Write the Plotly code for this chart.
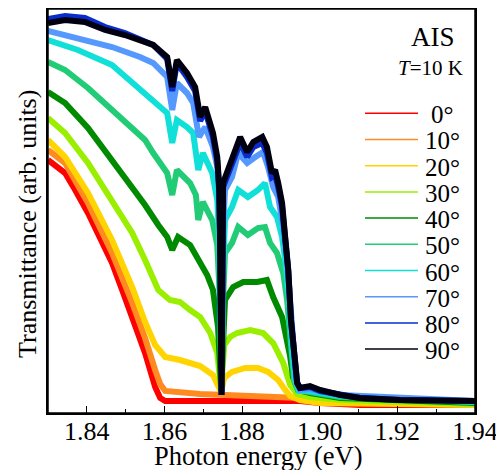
import plotly.graph_objects as go

# ---- data (photon energy in eV, transmittance in arb. units) ----
angles = [0, 10, 20, 30, 40, 50, 60, 70, 80, 90]
angle_labels = ["0°", "10°", "20°", "30°", "40°", "50°", "60°", "70°", "80°", "90°"]
colors = ["#ff0000", "#ff8a20", "#ffd400", "#9aee00", "#008a00",
          "#22cc77", "#11e0d8", "#5599ff", "#0a2ccc", "#000010"]

E_00 = [1.8300,1.8321,1.8344,1.8370,1.8403,1.8434,1.8465,1.8491,1.8517,1.8537,1.8550,1.8563,1.8576,1.8589,1.8602,1.8692,1.8821,1.8949,1.9001,1.9104,1.9400]
T_00 = [63.25,61.75,60.0,55.75,50.0,43.75,37.5,30.75,24.0,19.0,15.0,10.75,6.5,3.75,3.0,3.0,3.0,3.0,2.5,2.0,2.0]

E_10 = [1.8300,1.8344,1.8403,1.8465,1.8517,1.8550,1.8576,1.8589,1.8602,1.8692,1.8821,1.8949,1.9001,1.9400]
T_10 = [65.75,62.5,52.5,40.0,27.5,18.75,10.75,7.25,5.5,4.75,4.25,3.75,2.75,2.0]

E_20 = [1.8300,1.8344,1.8403,1.8465,1.8517,1.8550,1.8576,1.8602,1.8640,1.8692,1.8725,1.8738,1.8746,1.8754,1.8774,1.8808,1.8841,1.8867,1.8893,1.8911,1.8924,1.8949,1.9001,1.9400]
T_20 = [68.25,64.0,55.0,43.25,31.5,22.75,17.0,14.0,13.25,11.75,9.5,7.0,5.25,8.75,10.25,11.25,11.25,10.25,8.25,5.75,4.25,3.25,2.5,2.0]

E_30 = [1.8300,1.8344,1.8403,1.8465,1.8517,1.8550,1.8584,1.8614,1.8640,1.8666,1.8692,1.8718,1.8736,1.8746,1.8754,1.8769,1.8787,1.8821,1.8854,1.8880,1.8906,1.8924,1.8942,1.8975,1.9053,1.9400]
T_30 = [73.75,70.0,62.5,53.25,45.0,38.25,30.75,28.25,27.75,25.75,24.0,20.0,15.0,5.75,17.0,19.0,20.0,20.75,20.0,17.5,12.5,7.0,4.75,4.0,3.25,2.25]

E_40 = [1.8300,1.8344,1.8403,1.8465,1.8517,1.8550,1.8584,1.8607,1.8620,1.8635,1.8666,1.8692,1.8710,1.8725,1.8738,1.8746,1.8751,1.8756,1.8777,1.8803,1.8839,1.8864,1.8880,1.8903,1.8924,1.8931,1.8944,1.8975,1.9053,1.9400]
T_40 = [80.25,77.5,71.25,63.25,56.5,52.0,47.0,44.0,40.75,44.0,42.0,37.75,34.5,30.75,21.5,6.25,23.25,28.25,31.5,32.75,32.75,33.25,29.0,24.0,14.0,9.0,5.75,5.0,3.75,2.5]

E_50 = [1.8300,1.8344,1.8403,1.8465,1.8517,1.8550,1.8571,1.8607,1.8620,1.8632,1.8666,1.8681,1.8687,1.8699,1.8723,1.8736,1.8743,1.8747,1.8751,1.8756,1.8774,1.8790,1.8815,1.8841,1.8859,1.8872,1.8890,1.8906,1.8916,1.8926,1.8934,1.8944,1.8975,1.9053,1.9400]
T_50 = [87.75,85.75,81.25,75.75,70.75,68.25,65.0,60.0,54.5,60.75,57.5,54.5,48.25,52.75,48.25,42.0,28.25,5.25,28.25,40.0,42.5,46.5,44.5,46.25,46.5,42.5,40.0,35.0,28.25,15.75,8.25,5.75,5.25,4.0,2.75]

E_60 = [1.8300,1.8377,1.8465,1.8537,1.8571,1.8607,1.8620,1.8632,1.8658,1.8674,1.8687,1.8699,1.8723,1.8736,1.8741,1.8747,1.8751,1.8756,1.8774,1.8790,1.8815,1.8841,1.8859,1.8872,1.8890,1.8903,1.8911,1.8921,1.8929,1.8937,1.8947,1.8975,1.9053,1.9400]
T_60 = [93.25,90.75,87.0,80.75,78.25,75.0,67.5,73.25,71.5,70.0,60.75,65.0,60.0,53.25,44.0,5.0,35.75,48.25,51.5,55.75,54.0,55.75,57.5,51.5,49.0,44.0,38.25,28.25,15.75,8.25,5.5,5.5,4.25,2.75]

E_70 = [1.8300,1.8377,1.8465,1.8537,1.8571,1.8607,1.8620,1.8632,1.8658,1.8674,1.8689,1.8705,1.8725,1.8738,1.8743,1.8747,1.8751,1.8756,1.8774,1.8790,1.8813,1.8834,1.8854,1.8867,1.8880,1.8893,1.8906,1.8916,1.8924,1.8931,1.8939,1.8949,1.8975,1.9053,1.9400]
T_70 = [95.5,93.75,91.5,89.0,87.5,84.0,75.75,82.5,80.0,77.5,69.0,71.5,66.5,60.75,52.5,4.75,45.75,55.75,59.0,65.0,62.5,64.0,65.25,61.5,56.5,54.0,46.5,38.25,28.25,15.75,8.25,5.75,6.0,4.5,3.0]

E_80 = [1.8300,1.8344,1.8395,1.8447,1.8498,1.8537,1.8571,1.8607,1.8620,1.8632,1.8658,1.8679,1.8692,1.8705,1.8725,1.8736,1.8741,1.8743,1.8747,1.8751,1.8764,1.8782,1.8795,1.8813,1.8829,1.8852,1.8864,1.8877,1.8885,1.8893,1.8903,1.8911,1.8919,1.8926,1.8934,1.8942,1.8949,1.8975,1.9001,1.9053,1.9104,1.9207,1.9400]
T_80 = [98.5,99.25,98.75,96.5,95.0,93.5,92.0,88.5,80.5,87.5,84.0,80.5,73.0,75.5,69.0,63.0,55.5,45.0,4.5,56.5,59.5,64.5,67.5,64.0,66.5,67.5,65.0,59.0,59.5,56.5,51.5,43.5,35.5,23.0,13.0,7.5,6.25,6.5,5.5,4.5,3.75,3.25,3.0]

E_90 = [1.8300,1.8344,1.8395,1.8447,1.8498,1.8537,1.8571,1.8607,1.8620,1.8632,1.8658,1.8679,1.8692,1.8705,1.8725,1.8736,1.8741,1.8743,1.8747,1.8751,1.8764,1.8782,1.8795,1.8813,1.8829,1.8852,1.8864,1.8877,1.8885,1.8893,1.8903,1.8911,1.8919,1.8926,1.8934,1.8942,1.8949,1.8975,1.9001,1.9053,1.9104,1.9207,1.9400]
T_90 = [97.5,98.25,97.75,95.75,94.5,93.25,92.0,89.0,81.5,88.25,85.0,81.5,74.0,76.5,70.0,64.0,56.5,45.75,4.5,57.5,60.75,65.75,69.0,65.25,67.75,69.0,66.5,60.0,60.75,57.5,52.5,44.0,35.75,23.25,13.25,7.5,6.25,6.75,5.75,4.5,3.75,3.25,3.0]

x_tickvals = [1.84, 1.86, 1.88, 1.90, 1.92, 1.94]
x_ticktext = ["1.84", "1.86", "1.88", "1.90", "1.92", "1.94"]

energies = [E_00, E_10, E_20, E_30, E_40, E_50, E_60, E_70, E_80, E_90]
trans = [T_00, T_10, T_20, T_30, T_40, T_50, T_60, T_70, T_80, T_90]

FONT = "Liberation Serif, Times New Roman, serif"
X_RANGE = [1.83, 1.94]

fig = go.Figure()
for lab, col, ex, tx in zip(angle_labels, colors, energies, trans):
    fig.add_trace(go.Scatter(x=ex, y=tx, mode="lines", name=lab,
                             line=dict(color=col, width=6), showlegend=False))

# The page body has an 8 px default margin: the figure starts at (8, 8) in the window.
OFF = 8
W, H = 504 - OFF, 470 - OFF
# target plot-area box in window pixels
L, R, TOP, BOT = 48, 475, 9, 413
def px(xp):
    return (xp - L) / (R - L)
def py(yp):
    return (BOT - yp) / (BOT - TOP)

# frame around the plotting area
shapes = [dict(type="rect", xref="paper", yref="paper", x0=0, x1=1, y0=0, y1=1,
               line=dict(color="black", width=1.5), layer="above")]
annotations = []
for i, (lab, col) in enumerate(zip(angle_labels, colors)):
    yc = 113.3 + 26.2 * i
    shapes.append(dict(type="line", xref="paper", yref="paper",
                       x0=px(365), x1=px(418), y0=py(yc), y1=py(yc),
                       line=dict(color=col, width=1.5)))
    annotations.append(dict(text=lab, xref="paper", yref="paper",
                            x=px(442), y=py(yc + 1.5), xanchor="center", yanchor="middle",
                            showarrow=False, font=dict(family=FONT, size=25, color="black")))

annotations.append(dict(text="AIS", xref="paper", yref="paper", x=px(433), y=py(37),
                        xanchor="center", yanchor="middle", showarrow=False,
                        font=dict(family=FONT, size=27, color="black")))
annotations.append(dict(text="<i>T</i>=10 K", xref="paper", yref="paper", x=px(430), y=py(68),
                        xanchor="center", yanchor="middle", showarrow=False,
                        font=dict(family=FONT, size=21, color="black")))
# axis titles
annotations.append(dict(text="Photon energy (eV)", xref="paper", yref="paper", x=px(258), y=py(456),
                        xanchor="center", yanchor="middle", showarrow=False,
                        font=dict(family=FONT, size=26.5, color="black")))
annotations.append(dict(text="Transmittance (arb. units)", xref="paper", yref="paper", x=px(27), y=py(224),
                        xanchor="center", yanchor="middle", showarrow=False, textangle=-90,
                        font=dict(family=FONT, size=26, color="black")))

minor_ticks = dict(dtick=0.01, tick0=1.83, ticks="inside", ticklen=4, tickwidth=1.2, tickcolor="black")

fig.update_layout(
    template="none",
    width=W, height=H,
    margin=dict(l=L - OFF, r=504 - R, t=TOP - OFF, b=470 - BOT, pad=0),
    plot_bgcolor="white", paper_bgcolor="white",
    font=dict(family=FONT, size=26, color="black"),
    shapes=shapes, annotations=annotations,
    xaxis=dict(range=X_RANGE, tickvals=x_tickvals, ticktext=x_ticktext,
               ticks="inside", ticklen=7, tickwidth=1.2, tickcolor="black",
               minor=minor_ticks,
               showline=True, linecolor="black", linewidth=1.5, mirror=True,
               showgrid=False, zeroline=False, automargin=False,
               ticklabelstandoff=-6,
               tickfont=dict(family=FONT, size=26)),
    xaxis2=dict(range=X_RANGE, overlaying="x", side="top", anchor="y",
                tickvals=x_tickvals, showticklabels=False,
                ticks="inside", ticklen=6, tickwidth=1.2, tickcolor="black",
                minor=minor_ticks,
                showline=True, linecolor="black", linewidth=1.5,
                showgrid=False, zeroline=False, automargin=False),
    yaxis=dict(range=[0, 101], showticklabels=False, ticks="",
               showline=True, linecolor="black", linewidth=1.5, mirror=True,
               showgrid=False, zeroline=False, automargin=False),
)

fig.write_html("out.html")
